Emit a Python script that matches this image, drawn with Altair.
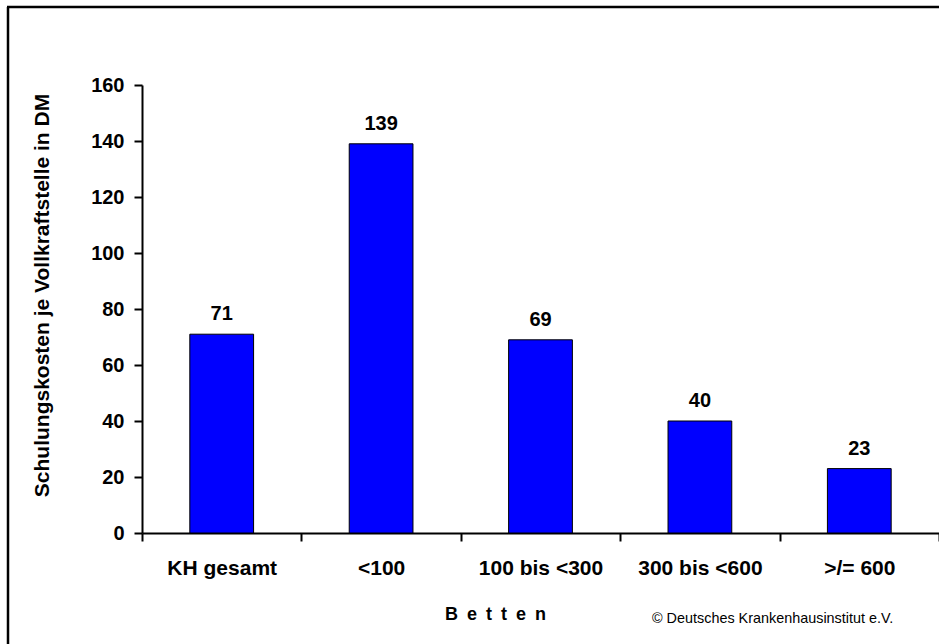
import altair as alt
import pandas as pd

categories = ["KH gesamt", "<100", "100 bis <300", "300 bis <600", ">/= 600"]
values = [71, 139, 69, 40, 23]
y_ticks = [0, 20, 40, 60, 80, 100, 120, 140, 160]

df = pd.DataFrame({"cat": categories, "val": values})
FONT = "Liberation Sans, Arial, sans-serif"

base = alt.Chart(df)

x_enc = alt.X(
    "cat:N",
    sort=categories,
    scale=alt.Scale(paddingInner=0, paddingOuter=0),
    axis=alt.Axis(
        title="B\u2002e\u2002t\u2002t\u2002e\u2002n",
        titleFont=FONT, titleFontSize=18, titleFontWeight="bold",
        titleX=353, titleY=86, titleBaseline="alphabetic", titleAlign="center",
        labelAngle=0, labelFont=FONT, labelFontSize=21, labelFontWeight="bold",
        labelColor="black", labelPadding=16,
        tickBand="extent", tickSize=8, tickWidth=2, tickColor="black",
        domainColor="black", domainWidth=2,
    ),
)
y_enc = alt.Y(
    "val:Q",
    scale=alt.Scale(domain=[0, 160], nice=False),
    axis=alt.Axis(
        values=y_ticks,
        title="Schulungskosten je Vollkraftstelle in DM",
        titleFont=FONT, titleFontSize=21, titleFontWeight="bold",
        titleX=-94, titleY=210, titleBaseline="alphabetic", titleAlign="center",
        labelFont=FONT, labelFontSize=20, labelFontWeight="bold", labelColor="black",
        labelPadding=10, tickSize=8, tickWidth=2, tickColor="black",
        domainColor="black", domainWidth=2, grid=False,
    ),
)

bars = base.mark_bar(
    color="#0000FF", stroke="black", strokeWidth=1,
    width=alt.RelativeBandSize(0.4),
).encode(x=x_enc, y=y_enc)

labels = base.mark_text(
    font=FONT, fontSize=20, fontWeight="bold", color="black",
    baseline="alphabetic", dy=-14,
).encode(x=alt.X("cat:N", sort=categories), y="val:Q", text="val:Q")

one = pd.DataFrame({"a": [0]})
frame_left = alt.Chart(one).mark_rule(color="black", strokeWidth=2.5).encode(
    x=alt.value(-134), y=alt.value(-78), y2=alt.value(600)
)
frame_top = alt.Chart(one).mark_rule(color="black", strokeWidth=2.5).encode(
    x=alt.value(-135), x2=alt.value(820), y=alt.value(-78)
)
copyright_text = alt.Chart(one).mark_text(
    text="\u00a9 Deutsches Krankenhausinstitut e.V.",
    font=FONT, fontSize=14.4, color="black", align="left", baseline="alphabetic",
).encode(x=alt.value(510), y=alt.value(538))

chart = alt.layer(bars, labels, frame_left, frame_top, copyright_text).properties(
    width=797, height=448,
    autosize=alt.AutoSizeParams(type="none"),
    padding={"left": 142, "top": 85, "right": 0, "bottom": 111},
    background="white",
).configure_view(stroke=None, clip=False)

chart.save("out.html", embed_options={"renderer": "svg", "actions": False})
